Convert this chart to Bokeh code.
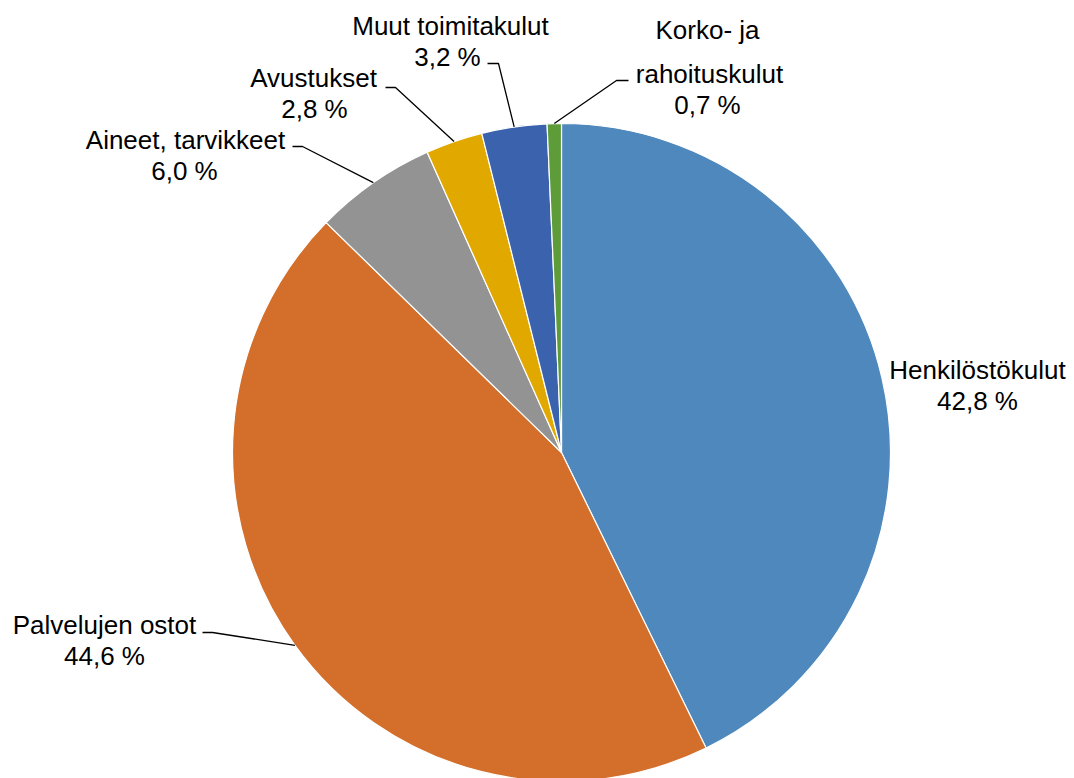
import math
from bokeh.plotting import figure
from bokeh.models import Range1d, ColumnDataSource
from bokeh.core.properties import value
from bokeh.embed import file_html
from bokeh.resources import INLINE

# ---- data ----
categories = ["Henkilöstökulut", "Palvelujen ostot", "Aineet, tarvikkeet",
              "Avustukset", "Muut toimitakulut", "Korko- ja rahoituskulut"]
values = [42.8, 44.6, 6.0, 2.8, 3.2, 0.7]
colors = ["#4F88BC", "#D36F2B", "#939393", "#E1A900", "#3B62AD", "#5E9C3A"]

# ---- layout (reference page pixels) ----
W, H = 1074, 778
CX, CY, R = 561, 452, 329
FONT = "Liberation Sans"
FS = "26px"
TEXT_SHIFT = -9  # baseline correction

def py(y):  # page y -> data y
    return H - y

p = figure(width=W, height=H, output_backend="svg", toolbar_location=None,
           x_range=Range1d(0, W), y_range=Range1d(0, H),
           min_border=0, outline_line_color=None, background_fill_color="white")
p.axis.visible = False
p.grid.visible = False

total = sum(values)
cum = 0.0
starts, ends, mids = [], [], []
for v in values:
    s = cum / total
    e = (cum + v) / total
    starts.append(math.pi / 2 - 2 * math.pi * s)
    ends.append(math.pi / 2 - 2 * math.pi * e)
    mids.append((s + e) / 2)
    cum += v

src = ColumnDataSource(dict(start=starts, end=ends, color=colors))
p.wedge(x=CX, y=py(CY), radius=R, start_angle="start", end_angle="end",
        direction="clock", fill_color="color", line_color="white", line_width=1.2,
        source=src)

def pct(v):
    return f"{v:.1f} %".replace(".", ",")

# label lines: (text, center x, baseline page y)
name_lines = [
    [("Henkilöstökulut", 977, 378)],
    [("Palvelujen ostot", 104, 633)],
    [("Aineet, tarvikkeet", 185, 148)],
    [("Avustukset", 313, 86)],
    [("Muut toimitakulut", 450, 34)],
    [("Korko- ja", 707, 38), ("rahoituskulut", 709, 82)],
]
pct_pos = [(977, 409), (104, 664), (184, 179), (314, 117), (447, 65), (707, 113)]

# leader lines: elbow and end points (None = no leader)
leaders = [None, ((212, 632), (202, 632)), ((302, 146), (292, 146)),
           ((395, 87), (385, 87)), ((498, 63), (487, 63)), ((616, 80), (628, 80))]

tx, ty, tt = [], [], []
for i, v in enumerate(values):
    for (t, x, y) in name_lines[i]:
        tx.append(x); ty.append(py(y + TEXT_SHIFT)); tt.append(t)
    x, y = pct_pos[i]
    tx.append(x); ty.append(py(y + TEXT_SHIFT)); tt.append(pct(v))
    if leaders[i] is not None:
        ang = 2 * math.pi * mids[i]
        sx = CX + R * math.sin(ang)
        sy = CY - R * math.cos(ang)
        (ex, ey), (fx, fy) = leaders[i]
        p.line([sx, ex, fx], [py(sy), py(ey), py(fy)], line_color="black", line_width=1.3)

p.text(x=tx, y=ty, text=tt, text_font=value(FONT), text_font_size=FS,
       text_align="center", text_baseline="alphabetic", text_color="black")

open("out.html", "w").write(file_html(p, INLINE))
